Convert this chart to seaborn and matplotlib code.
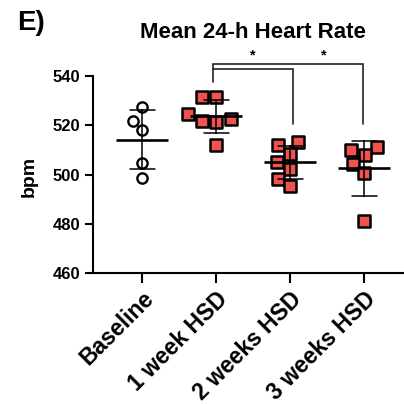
import matplotlib
matplotlib.use("Agg")
import matplotlib.pyplot as plt
import numpy as np
import pandas as pd
import seaborn as sns

# ---- data ----
categories = ["Baseline", "1 week HSD", "2 weeks HSD", "3 weeks HSD"]
baseline = [527.4, 521.7, 518.2, 504.6, 498.7]
week1 = [531.5, 531.5, 524.3, 521.7, 522.4, 521.4, 512.1]
week2 = [513.2, 511.8, 508.5, 505.0, 502.4, 498.3, 495.2]
week3 = [511.1, 510.1, 507.8, 504.4, 500.6, 481.3]
yticks = [460, 480, 500, 520, 540]
title = "Mean 24-h Heart Rate"
panel_label = "E)"
ylabel = "bpm"
sig_pairs = [("1 week HSD", "2 weeks HSD"), ("1 week HSD", "3 weeks HSD")]
sig_labels = ["*", "*"]

groups = [baseline, week1, week2, week3]
df = pd.DataFrame({
    "group": [c for c, g in zip(categories, groups) for _ in g],
    "bpm": [v for g in groups for v in g],
})

sns.set_theme(style="ticks")
plt.rcParams["font.family"] = ["Liberation Sans", "DejaVu Sans"]
plt.rcParams["font.weight"] = "bold"
plt.rcParams["axes.labelweight"] = "bold"

RED = "#EF5350"

fig = plt.figure(figsize=(4.04, 4.04), dpi=100)
ax = fig.add_axes([0.2295, 0.3235, 0.7705, 0.4891])

base_df = df[df["group"] == "Baseline"]
hsd_df = df[df["group"] != "Baseline"]

sns.swarmplot(data=base_df, x="group", y="bpm", order=categories, marker="o",
              color="white", edgecolor="black", linewidth=1.7, size=7.4, ax=ax, zorder=2)
sns.swarmplot(data=hsd_df, x="group", y="bpm", order=categories, marker="s",
              color=RED, edgecolor="black", linewidth=1.8, size=8.3, ax=ax, zorder=2)
sns.pointplot(data=df, x="group", y="bpm", order=categories, errorbar="sd",
              capsize=0.34, color="black", linestyle="none", marker="_",
              markersize=37, markeredgewidth=1.9,
              err_kws={"linewidth": 1.1, "zorder": 4}, ax=ax, zorder=4)

ax.set_ylim(yticks[0], yticks[-1])
ax.set_xlim(-0.671, 3.54)
ax.set_yticks(yticks)
ax.set_yticklabels([str(t) for t in yticks], fontsize=12, fontweight="bold")
ax.set_xticks(range(len(categories)))
ax.set_xticklabels(categories, rotation=45, ha="right", rotation_mode="anchor",
                   va="top", fontsize=16.5, fontweight="bold")
ax.set_xlabel("")
ax.set_ylabel(ylabel, fontsize=14, fontweight="bold", color="black")
ax.yaxis.set_label_coords(-0.176, 0.49)

sns.despine(ax=ax)
for s in ["left", "bottom"]:
    ax.spines[s].set_linewidth(1.5)
    ax.spines[s].set_color("black")
ax.tick_params(axis="y", length=6, width=1.5, color="black", labelcolor="black", pad=3)
ax.tick_params(axis="x", length=7, width=1.5, color="black", labelcolor="black", pad=3)
ax.grid(False)

# significance brackets
idx = {c: i for i, c in enumerate(categories)}
lw_b = 1.2
x_left = idx["1 week HSD"] - 0.047
x2 = idx["2 weeks HSD"] + 0.043
x3 = idx["3 weeks HSD"] - 0.01
ax.plot([x_left, x_left, x3, x3], [537.3, 544.6, 544.6, 520.3], color="#222222",
        lw=lw_b, clip_on=False, solid_joinstyle="miter")
ax.plot([x_left, x2, x2], [542.6, 542.6, 520.3], color="#222222",
        lw=lw_b, clip_on=False, solid_joinstyle="miter")
ax.text(1.50, 548.0, sig_labels[0], ha="center", va="center", fontsize=10.5,
        fontweight="bold", color="black", clip_on=False)
ax.text(2.46, 548.0, sig_labels[1], ha="center", va="center", fontsize=10.5,
        fontweight="bold", color="black", clip_on=False)

fig.text(252.5 / 404, 1 - 32.5 / 404, title, ha="center", va="center",
         fontsize=16, fontweight="bold", color="black")
fig.text(17 / 404, 1 - 23 / 404, panel_label, ha="left", va="center",
         fontsize=20, fontweight="bold", color="black")

fig.savefig("out.png", dpi=100)
